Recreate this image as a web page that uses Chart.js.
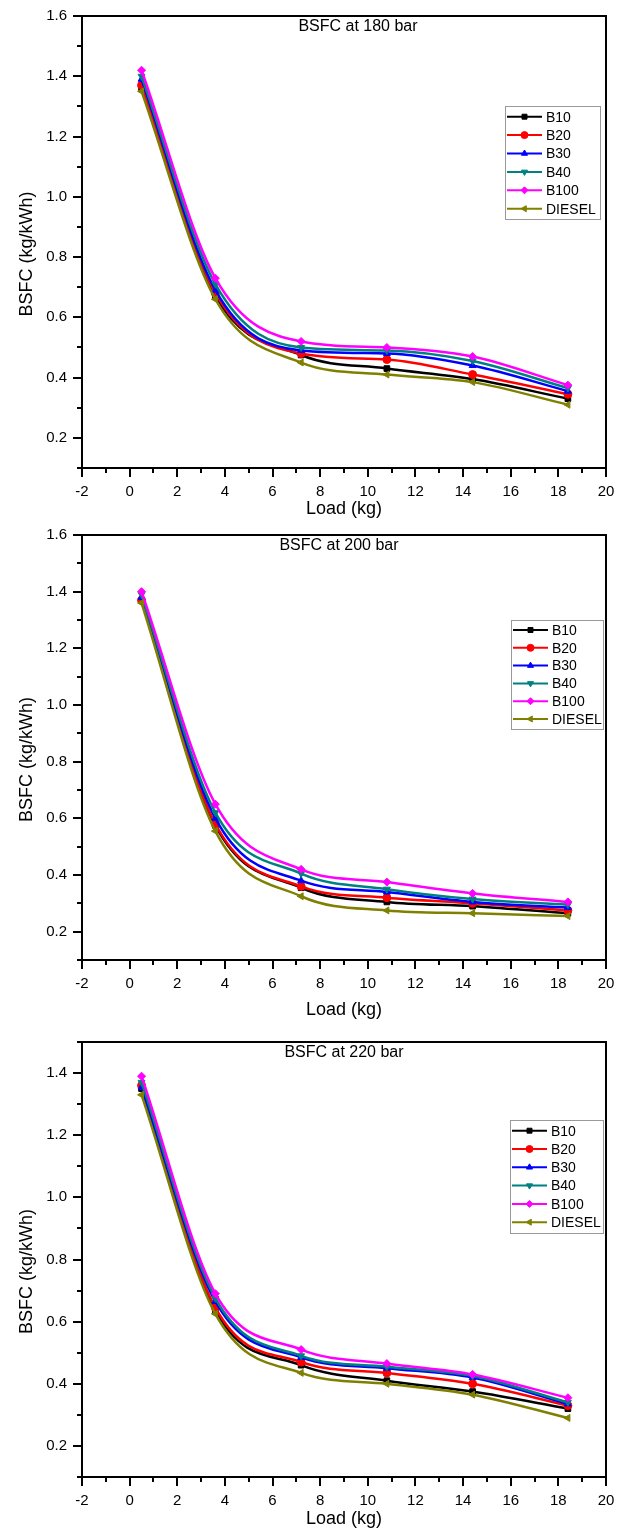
<!DOCTYPE html>
<html>
<head>
<meta charset="utf-8">
<script src="https://cdn.jsdelivr.net/npm/chart.js@4.4.0/dist/chart.umd.min.js"></script>
<style>
  html, body { margin: 0; padding: 0; background: #fff; }
  body { width: 625px; height: 1530px; position: relative; overflow: hidden; }
  canvas { position: absolute; left: 0; }
</style>
</head>
<body>
<canvas id="c180"></canvas>
<canvas id="c200"></canvas>
<canvas id="c220"></canvas>
<script>
//---------------------------------------
// Data
//---------------------------------------

// load (kg) on the x axis
const load = [0.5, 3.6, 7.2, 10.8, 14.4, 18.4];
const fuels = ['B10', 'B20', 'B30', 'B40', 'B100', 'DIESEL'];

// BSFC (kg/kWh), one row per fuel, same order as fuels
const bsfc_180 = [
  [1.36, 0.67, 0.475, 0.43, 0.395, 0.33],
  [1.37, 0.68, 0.48, 0.46, 0.41, 0.345],
  [1.39, 0.69, 0.49, 0.48, 0.44, 0.355],
  [1.40, 0.71, 0.50, 0.49, 0.455, 0.365],
  [1.42, 0.73, 0.52, 0.50, 0.47, 0.375],
  [1.35, 0.66, 0.45, 0.41, 0.385, 0.31]
];
const bsfc_200 = [
  [1.37, 0.575, 0.355, 0.305, 0.29, 0.265],
  [1.37, 0.58, 0.36, 0.32, 0.30, 0.275],
  [1.38, 0.60, 0.38, 0.34, 0.305, 0.285],
  [1.39, 0.62, 0.405, 0.35, 0.315, 0.295],
  [1.40, 0.65, 0.42, 0.375, 0.335, 0.305],
  [1.36, 0.555, 0.325, 0.275, 0.265, 0.255]
];
const bsfc_220 = [
  [1.35, 0.635, 0.46, 0.41, 0.375, 0.32],
  [1.36, 0.645, 0.47, 0.435, 0.40, 0.33],
  [1.355, 0.665, 0.485, 0.45, 0.42, 0.335],
  [1.37, 0.675, 0.49, 0.455, 0.425, 0.34],
  [1.39, 0.69, 0.51, 0.465, 0.43, 0.355],
  [1.33, 0.625, 0.435, 0.40, 0.365, 0.29]
];

//---------------------------------------
// Style
//---------------------------------------

const FONT = "'Liberation Sans', Arial, sans-serif";
const colors = ['#000000', '#ff0000', '#0000ff', '#008080', '#ff00ff', '#808000'];
const markers = ['rect', 'circle', 'triangle', 'triangle', 'rectRot', 'triangle'];
const marker_rot = [0, 0, 0, 180, 0, -90];

Chart.defaults.font.family = FONT;
Chart.defaults.color = '#000';

// frame, minor ticks, inner title, y title and legend
const decor = {
  id: 'decor',
  afterDraw(chart, args, o) {
    const ctx = chart.ctx;
    const a = chart.chartArea;
    const xs = chart.scales.x, ys = chart.scales.y;
    ctx.save();

    // box frame (top / right)
    ctx.strokeStyle = '#000';
    ctx.lineWidth = 2;
    ctx.beginPath();
    ctx.moveTo(a.left, a.top);
    ctx.lineTo(a.right, a.top);
    ctx.lineTo(a.right, a.bottom);
    ctx.stroke();

    // minor ticks
    ctx.beginPath();
    xs.ticks.forEach(t => {
      if (Math.round(t.value) % 2 !== 0) {
        const px = Math.round(xs.getPixelForValue(t.value));
        ctx.moveTo(px, a.bottom);
        ctx.lineTo(px, a.bottom + 5);
      }
    });
    ys.ticks.forEach(t => {
      if (Math.round(t.value * 10) % 2 !== 0) {
        const py = Math.round(ys.getPixelForValue(t.value));
        ctx.moveTo(a.left, py);
        ctx.lineTo(a.left - 5, py);
      }
    });
    ctx.stroke();

    // title inside the plot
    ctx.fillStyle = '#000';
    ctx.font = '16px ' + FONT;
    ctx.textAlign = 'center';
    ctx.textBaseline = 'middle';
    ctx.fillText(o.title, o.title_x, a.top + 10.5);

    // y axis title
    ctx.save();
    ctx.translate(27, (a.top + a.bottom) / 2 + 12);
    ctx.rotate(-Math.PI / 2);
    ctx.font = '18px ' + FONT;
    ctx.fillText('BSFC (kg/kWh)', 0, 0);
    ctx.restore();

    // legend
    const lg = o.legend;
    ctx.strokeStyle = '#999';
    ctx.lineWidth = 1;
    ctx.strokeRect(lg.x + 0.5, lg.y + 0.5, lg.w, lg.h);
    ctx.font = '14px ' + FONT;
    ctx.textAlign = 'left';
    chart.data.datasets.forEach((ds, i) => {
      const cy = lg.y + lg.first + i * lg.step;
      ctx.strokeStyle = ds.borderColor;
      ctx.lineWidth = 2;
      ctx.beginPath();
      ctx.moveTo(lg.x + 2, cy);
      ctx.lineTo(lg.x + 37, cy);
      ctx.stroke();
      ctx.fillStyle = ds.borderColor;
      ctx.lineWidth = 1;
      Chart.helpers.drawPoint(ctx, {pointStyle: ds.pointStyle, rotation: ds.pointRotation, radius: 3.5, borderWidth: 1}, lg.x + 19.5, cy);
      ctx.fillStyle = '#000';
      ctx.fillText(ds.label, lg.x + 41, cy + 1);
    });
    ctx.restore();
  }
};

//---------------------------------------
// Chart
//---------------------------------------

function draw_bsfc(canvas_id, rows, cfg) {
  const canvas = document.getElementById(canvas_id);
  canvas.width = 625;
  canvas.height = cfg.height;
  canvas.style.top = cfg.top + 'px';

  const datasets = fuels.map((name, i) => ({
    label: name,
    data: load.map((x, k) => ({x: x, y: rows[i][k]})),
    borderColor: colors[i],
    backgroundColor: colors[i],
    borderWidth: 2.5,
    pointStyle: markers[i],
    pointRotation: marker_rot[i],
    pointRadius: 4,
    pointBorderWidth: 1,
    cubicInterpolationMode: 'monotone',
    order: fuels.length - i
  }));

  const tick_color = (c, f) => (c.tick && f(c.tick.value)) ? '#000' : 'rgba(0,0,0,0)';

  return new Chart(canvas, {
    type: 'line',
    data: { datasets: datasets },
    options: {
      responsive: false,
      animation: false,
      devicePixelRatio: 1,
      layout: { padding: { top: cfg.pad_top, right: 19, left: 0, bottom: 0 } },
      plugins: {
        legend: { display: false },
        tooltip: { enabled: false },
        decor: { title: cfg.title, title_x: cfg.title_x, legend: cfg.legend }
      },
      scales: {
        x: {
          type: 'linear',
          min: -2, max: 20,
          afterFit: s => { s.height = cfg.x_height; },
          ticks: {
            stepSize: 1, autoSkip: false, maxRotation: 0, padding: 6,
            font: { size: 15 },
            callback: v => (Math.round(v) % 2 === 0) ? String(v) : ''
          },
          grid: {
            drawOnChartArea: false, tickLength: 9, lineWidth: 2, tickWidth: 2,
            tickColor: c => tick_color(c, v => Math.round(v) % 2 === 0)
          },
          border: { display: true, color: '#000', width: 2 },
          title: { display: true, text: 'Load (kg)', font: { size: 18 }, padding: { top: 0, bottom: cfg.x_title_pad } }
        },
        y: {
          min: 0.1, max: cfg.y_max,
          afterFit: s => { s.width = 82; },
          ticks: {
            stepSize: 0.1, autoSkip: false, padding: 6,
            font: { size: 15 },
            callback: v => (Math.round(v * 10) % 2 === 0) ? v.toFixed(1) : ''
          },
          grid: {
            drawOnChartArea: false, tickLength: 9, lineWidth: 2, tickWidth: 2,
            tickColor: c => tick_color(c, v => Math.round(v * 10) % 2 === 0)
          },
          border: { display: true, color: '#000', width: 2 }
        }
      }
    },
    plugins: [decor]
  });
}

draw_bsfc('c180', bsfc_180, {
  top: 0, height: 520, pad_top: 16, x_height: 52, x_title_pad: 0, y_max: 1.6,
  title: 'BSFC at 180 bar', title_x: 358,
  legend: { x: 505, y: 106, w: 95, h: 113, first: 10.7, step: 18.4 }
});
draw_bsfc('c200', bsfc_200, {
  top: 520, height: 505, pad_top: 14, x_height: 65, x_title_pad: 4, y_max: 1.6,
  title: 'BSFC at 200 bar', title_x: 339,
  legend: { x: 511, y: 100, w: 92, h: 109, first: 10, step: 17.8 }
});
draw_bsfc('c220', bsfc_220, {
  top: 1025, height: 505, pad_top: 17, x_height: 53, x_title_pad: 0, y_max: 1.5,
  title: 'BSFC at 220 bar', title_x: 344,
  legend: { x: 510, y: 95, w: 93, h: 113, first: 10.7, step: 18.3 }
});
</script>
</body>
</html>
